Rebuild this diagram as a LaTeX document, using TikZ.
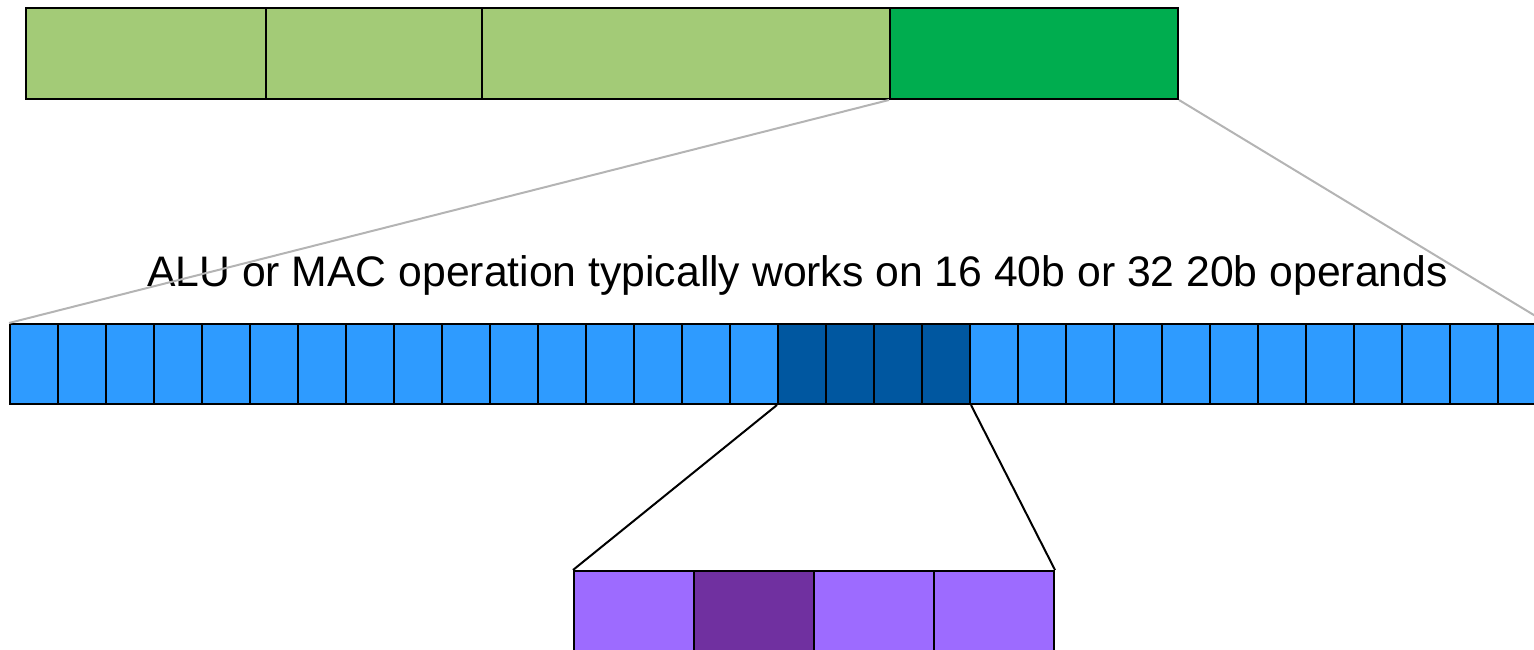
\documentclass[tikz,border=0pt]{standalone}
\usepackage{fontspec}
\setmainfont{Liberation Sans}
\definecolor{lgreen}{HTML}{A3CB77}
\definecolor{dgreen}{HTML}{00AD4F}
\definecolor{lblue}{HTML}{2E9BFF}
\definecolor{dblue}{HTML}{0057A0}
\definecolor{lpurple}{HTML}{9D6BFF}
\definecolor{dpurple}{HTML}{7030A0}
\definecolor{zoomgray}{HTML}{B4B4B4}
\begin{document}
\begin{tikzpicture}[x=1pt,y=-1pt,
  cell/.style={draw=black,line width=2pt,rectangle,inner sep=0pt,anchor=north west,minimum height=#1},
  gline/.style={draw=zoomgray,line width=2pt},
  bline/.style={draw=black,line width=2pt}]
\useasboundingbox (0,0) rectangle (1534,650);
\clip (0,0) rectangle (1534,650);
% label
\node[font=\fontsize{42.7}{50}\selectfont,inner sep=0pt,anchor=base] (lbl) at (797.5,286) {ALU or MAC operation typically works on 16 40b or 32 20b operands};
% top bar
\node[cell=91pt,fill=lgreen,minimum width=240pt] (g1) at (25,7) {};
\node[cell=91pt,fill=lgreen,minimum width=216pt] (g2) at (265,7) {};
\node[cell=91pt,fill=lgreen,minimum width=408pt] (g3) at (481,7) {};
\node[cell=91pt,fill=dgreen,minimum width=288pt] (g4) at (889,7) {};
% blue bar
\foreach \i in {0,...,31}{
  \pgfmathtruncatemacro{\isdark}{(\i>15)&&(\i<20)}
  \ifnum\isdark=1
    \node[cell=80pt,fill=dblue,minimum width=48pt] (b\i) at ({9+48*\i},323) {};
  \else
    \node[cell=80pt,fill=lblue,minimum width=48pt] (b\i) at ({9+48*\i},323) {};
  \fi
}
% purple bar
\node[cell=90pt,fill=lpurple,minimum width=120pt] (p1) at (573,570) {};
\node[cell=90pt,fill=dpurple,minimum width=120pt] (p2) at (693,570) {};
\node[cell=90pt,fill=lpurple,minimum width=120pt] (p3) at (813,570) {};
\node[cell=90pt,fill=lpurple,minimum width=120pt] (p4) at (933,570) {};
% zoom lines
\draw[gline] (g4.south west) -- (b0.north west);
\draw[gline] (g4.south east) -- (b31.north east);
\draw[bline] (b16.south west) -- (p1.north west);
\draw[bline] (b19.south east) -- (p4.north east);
\end{tikzpicture}
\end{document}
